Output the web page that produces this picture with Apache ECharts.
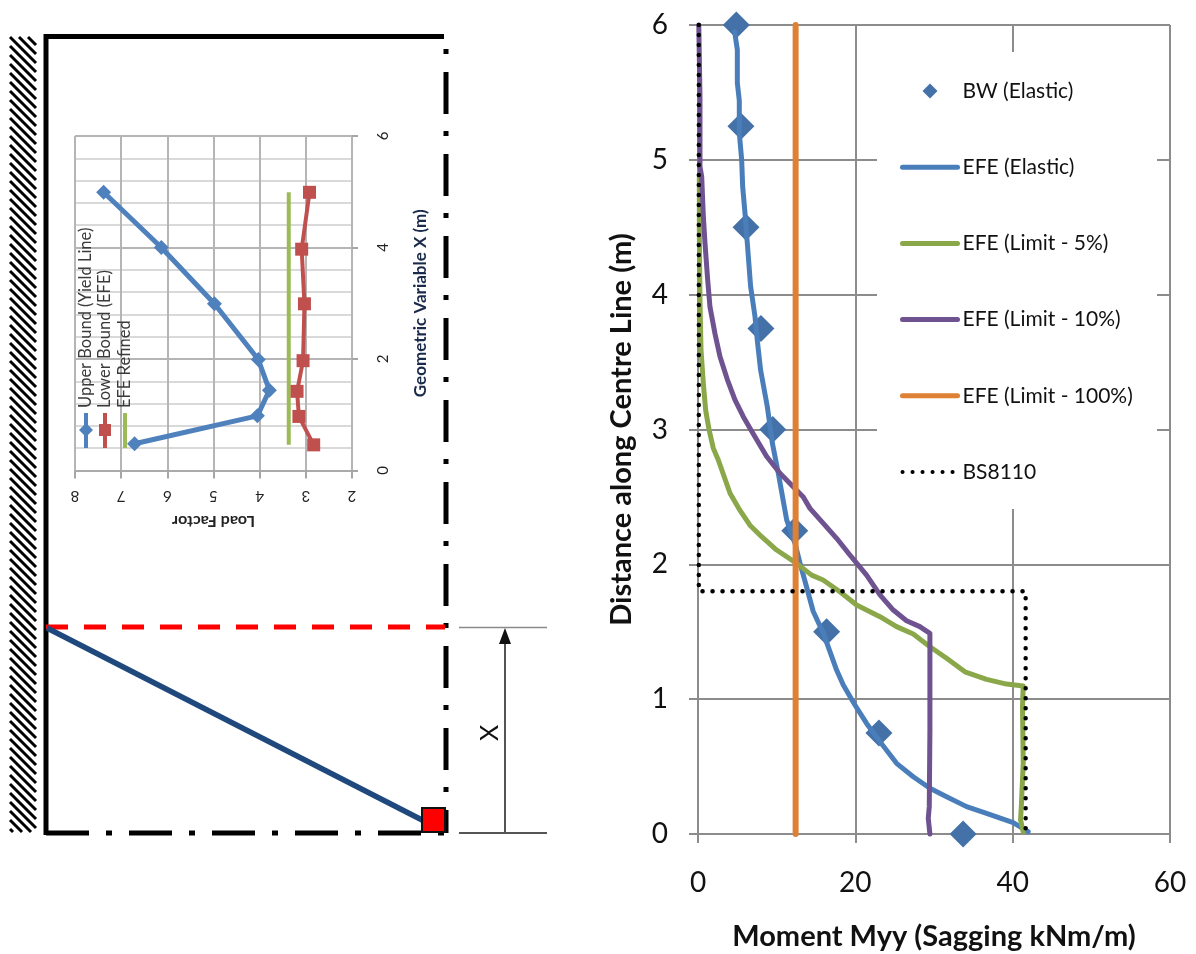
<!DOCTYPE html>
<html><head><meta charset="utf-8">
<style>html,body{margin:0;padding:0;background:#fff}#c{width:1196px;height:954px}</style>
<script src="https://cdn.jsdelivr.net/npm/echarts@6/dist/echarts.min.js"></script>
</head><body><div id="c"></div>
<script>
// Main chart: [Moment Myy, Distance along Centre Line]
const bwElastic = [[4.87,6],[5.46,5.25],[6.1,4.5],[8.0,3.75],[9.5,3.0],[12.3,2.25],[16.35,1.5],[23.0,0.75],[33.7,0]];
const efeElastic = [[4.66,5.95],[5.0,5.815],[5.0,5.57],[5.25,5.44],[5.25,5.2],[5.55,5.0],[5.68,4.8],[6.01,4.58],[6.27,4.38],[6.69,4.06],[7.24,3.84],[7.54,3.66],[7.96,3.44],[8.81,3.17],[9.45,2.9],[10.21,2.675],[11.27,2.33],[12.33,2.156],[12.96,2.01],[13.81,1.83],[14.65,1.65],[15.93,1.49],[17.62,1.216],[18.47,1.105],[19.95,0.957],[21.43,0.82],[23.13,0.685],[25.24,0.524],[27.36,0.425],[29.48,0.339],[31.6,0.277],[34.14,0.203],[36.68,0.153],[40.07,0.084],[41.97,0.017]];
const efeLimit5 = [[0.17,4.875],[0.17,4.455],[0.25,3.96],[0.38,3.59],[0.68,3.34],[0.97,3.145],[1.4,3.0],[1.95,2.86],[2.58,2.774],[4.07,2.527],[5.34,2.4],[6.6,2.29],[8.09,2.205],[10.0,2.106],[12.54,2.007],[14.44,1.92],[15.9,1.884],[18.04,1.797],[20.16,1.698],[23.13,1.612],[25.24,1.538],[27.36,1.483],[29.48,1.389],[31.6,1.303],[33.93,1.203],[36.68,1.147],[39.22,1.112],[41.34,1.098],[41.25,0.944],[41.34,0.526],[41.1,0.203],[41.0,0.105],[41.34,0.017]];
const efeLimit10 = [[0.1,6],[0.25,5.47],[0.25,4.95],[0.47,4.875],[0.68,4.58],[0.89,4.38],[1.23,4.11],[1.52,3.91],[2.16,3.71],[2.8,3.54],[3.73,3.37],[4.7,3.22],[5.76,3.095],[6.9,2.98],[8.73,2.8],[10.42,2.675],[12.1,2.576],[13.38,2.5],[14.23,2.415],[15.93,2.304],[17.62,2.193],[19.31,2.069],[21.43,1.92],[23.13,1.773],[24.82,1.661],[26.51,1.582],[28.2,1.538],[29.48,1.488],[29.48,0.771],[29.4,0.203],[29.27,0.116],[29.48,0]];
const efeLimit100 = [[12.41,0],[12.41,6]];
const bs8110 = [[0.1,6],[0.1,1.8],[41.65,1.8],[41.65,0]];
const mainNames = ['BW (Elastic)','EFE (Elastic)','EFE (Limit - 5%)','EFE (Limit - 10%)','EFE (Limit - 100%)','BS8110'];

// Inset chart: [Load Factor, Geometric Variable X]
const upperBound = [[6.71,0.48],[4.05,0.98],[3.79,1.44],[4.03,1.99],[4.98,2.99],[6.13,4.0],[7.38,4.99]];
const lowerBound = [[2.83,0.46],[3.15,0.97],[3.19,1.42],[3.06,1.97],[3.03,2.99],[3.09,3.97],[2.92,4.99]];
const efeRefined = [[3.37,0.46],[3.37,4.99]];
const insetNames = ['Upper Bound (Yield Line)','Lower Bound (EFE)','EFE Refined'];

const BLACK='#000', FONT='Lato', AXIS='#8c8c8c';
const DOTS=[0.1,9.9];
const g = [];
function line(points, width, color, extra){
  g.push(Object.assign({type:'polyline',silent:true,z:3,shape:{points},
    style:Object.assign({stroke:color,lineWidth:width,fill:null},extra||{})}));
}
// white legend panel that hides the gridlines
g.push({type:'rect',silent:true,z:1,shape:{x:877,y:52,width:280,height:457},style:{fill:'#fff'}});
// hatching behind the wall
for(let s=-26;s<840;s+=9){
  const y0=Math.max(37,s), y1=Math.min(832,s+26);
  if(y1<=y0) continue;
  line([[10+(y0-s),y0],[10+(y1-s),y1]],3,BLACK);
}
line([[46,34],[46,835]],5,BLACK);
line([[44,36.5],[444,36.5]],5,BLACK);
line([[446,37],[446,833]],5,BLACK,{lineDash:[42,17,5,18],lineDashOffset:47});
line([[46,833],[445,833]],5,BLACK,{lineDash:[43,17,6,17]});
line([[46,627],[445,627]],5,'#ff0000',{lineDash:[22,16]});
line([[47,628],[424,821]],5.5,'#1f497d');
g.push({type:'rect',silent:true,z:4,shape:{x:422,y:808,width:23,height:24},style:{fill:'#ff0000',stroke:'#111',lineWidth:2}});
line([[459,627.5],[547,627.5]],1.5,'#8a8a8a');
line([[459,833],[547,833]],2,'#555');
line([[505,833],[505,640]],2,'#555');
g.push({type:'polygon',silent:true,z:3,shape:{points:[[505,628],[511,644],[499,644]]},style:{fill:'#111'}});
g.push({type:'text',silent:true,z:3,x:490,y:733,rotation:Math.PI/2,style:{text:'X',font:'25px '+FONT,fill:'#111',align:'center',verticalAlign:'middle'}});
// rotated legend of the inset
const insetCols=[86,105,125], insetColors=['#4f81bd','#c0504d','#9bbb59'];
insetNames.forEach((n,i)=>{
  g.push({type:'text',silent:true,z:5,x:insetCols[i],y:408,rotation:Math.PI/2,style:{text:n,font:'16.5px '+FONT,fill:'#3a3a3a',align:'left',verticalAlign:'middle'}});
  line([[insetCols[i],413],[insetCols[i],448]],4,insetColors[i]);
});
g.push({type:'polygon',silent:true,z:4,shape:{points:[[86,423],[93,430],[86,437],[79,430]]},style:{fill:insetColors[0]}});
g.push({type:'rect',silent:true,z:4,shape:{x:99,y:424,width:12,height:12},style:{fill:insetColors[1]}});

const mainLine=(name,data,color,w,extra)=>Object.assign({name,type:'line',xAxisIndex:0,yAxisIndex:0,data,showSymbol:false,symbol:'none',
  lineStyle:{color,width:w,cap:'round',join:'round'},itemStyle:{color},clip:false},extra||{});
const insetLine=(name,data,color,w,symbol,size)=>({name,type:'line',xAxisIndex:1,yAxisIndex:1,data,symbol,symbolSize:size,
  lineStyle:{color,width:w},itemStyle:{color}});
const legendLine=(name,color,type)=>({name,itemStyle:{opacity:0},lineStyle:{color,width:type?4:5,cap:'round',type:type||'solid'}});

const option={
  animation:false,backgroundColor:'#fff',
  textStyle:{fontFamily:FONT},
  graphic:{elements:g},
  grid:[
    {left:698,top:25,width:472,height:809,outerBoundsMode:'none'},
    {left:75,top:136,width:277,height:334.5,outerBoundsMode:'none'}
  ],
  legend:{
    data:[
      {name:mainNames[0],icon:'path://M0 -1L1 0L0 1L-1 0Z'},
      legendLine(mainNames[1],'#4a7ebb'),
      legendLine(mainNames[2],'#8aa84a'),
      legendLine(mainNames[3],'#6f5391'),
      legendLine(mainNames[4],'#de8135'),
      legendLine(mainNames[5],'#000',DOTS)
    ],
    orient:'vertical',left:900,top:79,itemWidth:55,itemHeight:15,itemGap:52.2,padding:0,z:6,
    textStyle:{fontFamily:FONT,fontSize:21,color:'#111',lineHeight:24},selectedMode:false
  },
  xAxis:[
    {gridIndex:0,type:'value',min:0,max:60,interval:20,
     axisLine:{onZero:false,lineStyle:{color:AXIS,width:2}},axisTick:{show:true,length:9,lineStyle:{color:AXIS,width:2}},
     splitLine:{show:true,lineStyle:{color:AXIS,width:2}},
     axisLabel:{fontSize:28,color:'#111',margin:35,fontFamily:FONT,hideOverlap:false,showMinLabel:true,showMaxLabel:true},
     name:'Moment Myy (Sagging kNm/m)',nameLocation:'middle',nameGap:88,
     nameTextStyle:{fontSize:29,fontWeight:'bold',color:'#111',fontFamily:FONT}},
    {gridIndex:1,type:'value',min:2,max:8,interval:1,inverse:true,position:'bottom',
     axisLine:{onZero:false,lineStyle:{color:'#a6a6a6',width:1.5}},axisTick:{show:true,length:8,lineStyle:{color:'#a6a6a6',width:2}},
     splitLine:{show:true,lineStyle:{color:'#b5b5b5',width:2}},
     axisLabel:{rotate:180,fontSize:15,color:'#222',margin:18,fontFamily:FONT},
     name:'Load Factor',nameLocation:'middle',nameRotate:180,nameGap:43,
     nameTextStyle:{fontSize:16,fontWeight:'bold',color:'#222',fontFamily:FONT}}
  ],
  yAxis:[
    {gridIndex:0,type:'value',min:0,max:6,interval:1,
     axisLine:{onZero:false,lineStyle:{color:AXIS,width:2}},axisTick:{show:true,length:9,lineStyle:{color:AXIS,width:2}},
     splitLine:{show:true,lineStyle:{color:AXIS,width:2}},
     axisLabel:{fontSize:28,color:'#111',margin:30,fontFamily:FONT},
     name:'Distance along Centre Line (m)',nameLocation:'middle',nameGap:62,
     nameTextStyle:{fontSize:29,fontWeight:'bold',color:'#111',fontFamily:FONT}},
    {gridIndex:1,type:'value',min:0,max:6,interval:2,position:'right',
     axisLine:{show:false,onZero:false},axisTick:{show:true,length:6,lineStyle:{color:'#a6a6a6',width:2}},
     splitLine:{show:true,lineStyle:{color:'#b5b5b5',width:2}},
     minorTick:{show:false,splitNumber:5},minorSplitLine:{show:true,lineStyle:{color:'#d9d9d9',width:2}},
     axisLabel:{rotate:90,fontSize:15,color:'#222',margin:24,fontFamily:FONT},
     name:'Geometric Variable X (m)',nameLocation:'middle',nameRotate:90,nameGap:60,
     nameTextStyle:{fontSize:17,fontWeight:'bold',color:'#1a2a4a',fontFamily:FONT}}
  ],
  series:[
    {name:mainNames[0],type:'scatter',xAxisIndex:0,yAxisIndex:0,data:bwElastic,symbol:'diamond',symbolSize:27,clip:false,itemStyle:{color:'#4472a8',opacity:1}},
    mainLine(mainNames[1],efeElastic,'#4a7ebb',5),
    mainLine(mainNames[2],efeLimit5,'#8aa84a',5),
    mainLine(mainNames[3],efeLimit10,'#6f5391',5),
    mainLine(mainNames[4],efeLimit100,'#de8135',6),
    mainLine(mainNames[5],bs8110,'#000',4.5,{lineStyle:{color:'#000',width:4.5,type:DOTS,cap:'round'},z:3}),
    insetLine(insetNames[0],upperBound,'#4f81bd',5,'diamond',15),
    insetLine(insetNames[1],lowerBound,'#c0504d',4,'rect',13),
    insetLine(insetNames[2],efeRefined,'#9bbb59',4,'none',0)
  ]
};
echarts.init(document.getElementById('c'),null,{renderer:'canvas'}).setOption(option);
</script></body></html>
